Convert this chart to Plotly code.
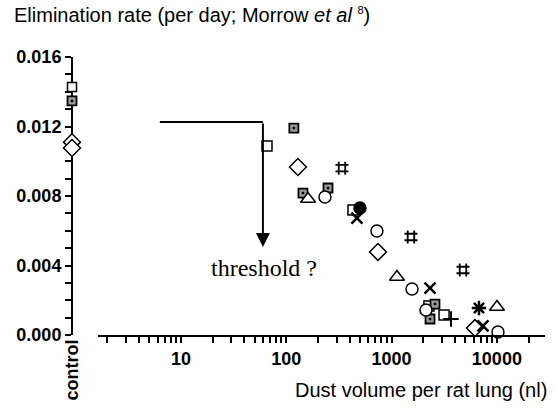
import math
import plotly.graph_objects as go

# ---------------- data ----------------
control_label = ["control"]

ctrl_square_y = [0.01427]
ctrl_boxdot_y = [0.01347]
ctrl_diamond_y = [0.0111, 0.01076]

sq_x = [65.6, 430, 2263, 3150]
sq_y = [0.01088, 0.00719, 0.00167, 0.00115]

boxdot_x = [118, 144, 249, 2583, 2318]
boxdot_y = [0.01191, 0.00817, 0.00846, 0.00178, 0.00092]

diamond_x = [129, 743, 6194]
diamond_y = [0.00967, 0.00478, 0.00040]

tri_x = [161, 1125, 10020]
tri_y = [0.00783, 0.00334, 0.00161]

circ_x = [233, 726, 1563, 2122, 10240]
circ_y = [0.00794, 0.00599, 0.00265, 0.00144, 0.00017]

fcirc_x = [501]
fcirc_y = [0.00731]

xmark_x = [469, 2318, 7380]
xmark_y = [0.00673, 0.00270, 0.00052]

hash_x = [338, 1528, 4766]
hash_y = [0.00960, 0.00564, 0.00374]

plus_x = [3666]
plus_y = [0.00092]

star_x = [6761]
star_y = [0.00155]

x_tick_vals = [2, 3, 4, 5, 6, 7, 8, 9, 10, 20, 30, 40, 50, 60, 70, 80, 90, 100,
               200, 300, 400, 500, 600, 700, 800, 900, 1000, 2000, 3000, 4000, 5000,
               6000, 7000, 8000, 9000, 10000, 20000]
x_tick_text = ["" if v not in (10, 100, 1000, 10000) else str(v) for v in x_tick_vals]
y_tick_vals = [0.000, 0.004, 0.008, 0.012, 0.016]
y_tick_text = ["0.000", "0.004", "0.008", "0.012", "0.016"]

threshold_arrow_x = [6.3, 60]          # horizontal bar start, vertical drop x
threshold_arrow_y = [0.01226, 0.00506]  # bar height, arrow tip
threshold_text = "threshold ?"
threshold_text_pos = (62, 0.00386)

# ---------------- figure ----------------
W, H = 556, 408
L, R, T, B = 60, 11, 57, 73
pw = W - L - R
ph = H - T - B

def px_x(p):
    return (p - L) / pw

def px_y(p):
    return 1 - (p - T) / ph

yaxis_pos = px_x(72)

fig = go.Figure()

def add(xs, ys, symbol, size, lw=1.5, xaxis="x", color="black"):
    fig.add_trace(go.Scatter(
        x=xs, y=ys, mode="markers", xaxis=xaxis, yaxis="y",
        marker=dict(symbol=symbol, size=size, color=color,
                    line=dict(color="black", width=lw)),
        cliponaxis=False, showlegend=False, hoverinfo="skip"))

# control column
add(control_label * len(ctrl_square_y), ctrl_square_y, "square", 9, xaxis="x2", color="white")
add(control_label * len(ctrl_boxdot_y), ctrl_boxdot_y, "square-dot", 9, lw=1.8, xaxis="x2", color="#9a9a9a")
add(control_label * len(ctrl_diamond_y), ctrl_diamond_y, "diamond", 13, xaxis="x2", color="white")

add(sq_x, sq_y, "square", 10, color="white")
add(boxdot_x, boxdot_y, "square-dot", 9, lw=1.8, color="#9a9a9a")
add(diamond_x, diamond_y, "diamond", 13, color="white")
add(tri_x, tri_y, "triangle-up", 13, color="white")
add(circ_x, circ_y, "circle", 12, color="white")
add(fcirc_x, fcirc_y, "circle", 12)
add(xmark_x, xmark_y, "x-thin-open", 11, lw=2.5)
add(hash_x, hash_y, "hash-open", 13, lw=1.8)
add(plus_x, plus_y, "cross-thin-open", 11, lw=2)
add(star_x, star_y, "asterisk-open", 12, lw=2.5)

bold_font = dict(family="Liberation Sans, Arial, sans-serif", size=18,
                 color="black", weight="bold")

fig.update_layout(
    width=W, height=H,
    margin=dict(l=L, r=R, t=T, b=B, autoexpand=False),
    plot_bgcolor="white", paper_bgcolor="white",
    xaxis=dict(
        type="log", domain=[px_x(98), 1],
        range=[0.212, 4.457], automargin=False,
        tickmode="array", tickvals=x_tick_vals, ticktext=x_tick_text,
        ticks="outside", ticklen=6, tickwidth=2, tickcolor="black",
        showline=True, linewidth=2, linecolor="black",
        showgrid=False, zeroline=False, tickfont=bold_font,
        anchor="y",
    ),
    xaxis2=dict(
        type="category", domain=[yaxis_pos - 0.012, yaxis_pos + 0.012],
        range=[-0.5, 0.5], tickangle=-90, ticks="", showline=False,
        showgrid=False, zeroline=False, anchor="y", automargin=False,
        tickfont=bold_font,
    ),
    yaxis=dict(
        range=[0, 0.016], anchor="free", position=yaxis_pos, automargin=False,
        tickmode="array", tickvals=y_tick_vals, ticktext=y_tick_text,
        ticks="outside", ticklen=6, tickwidth=2, tickcolor="black",
        minor=dict(dtick=0.001, ticks="outside", ticklen=6, tickwidth=2, tickcolor="black"),
        showline=True, linewidth=2, linecolor="black",
        showgrid=False, zeroline=False,
        tickfont=bold_font,
    ),
)

# threshold arrow
fig.add_shape(type="line", xref="x", yref="y",
              x0=threshold_arrow_x[0], x1=threshold_arrow_x[1],
              y0=threshold_arrow_y[0], y1=threshold_arrow_y[0],
              line=dict(color="black", width=2))
fig.add_annotation(xref="x", yref="y", axref="x", ayref="y",
                   x=math.log10(threshold_arrow_x[1]), y=threshold_arrow_y[1],
                   ax=math.log10(threshold_arrow_x[1]), ay=threshold_arrow_y[0],
                   showarrow=True, arrowhead=2, arrowsize=1.4, arrowwidth=2,
                   arrowcolor="black", text="")
fig.add_annotation(xref="x", yref="y",
                   x=math.log10(threshold_text_pos[0]), y=threshold_text_pos[1],
                   text=threshold_text, showarrow=False,
                   font=dict(family="Liberation Serif, Times New Roman, serif", size=24, color="black"))

# titles
fig.add_annotation(xref="paper", yref="paper", x=px_x(12), y=px_y(15),
                   xanchor="left", yanchor="middle", showarrow=False,
                   text="Elimination rate (per day; Morrow <i>et al</i> "
                        "<sup><span style='font-size:11px'>8</span></sup>)",
                   font=dict(family="Liberation Sans, Arial, sans-serif", size=20, color="black"))
fig.add_annotation(xref="paper", yref="paper", x=px_x(549), y=px_y(390),
                   xanchor="right", yanchor="middle", showarrow=False,
                   text="Dust volume per rat lung (nl)",
                   font=dict(family="Liberation Sans, Arial, sans-serif", size=20, color="black"))

fig.write_html("out.html")
